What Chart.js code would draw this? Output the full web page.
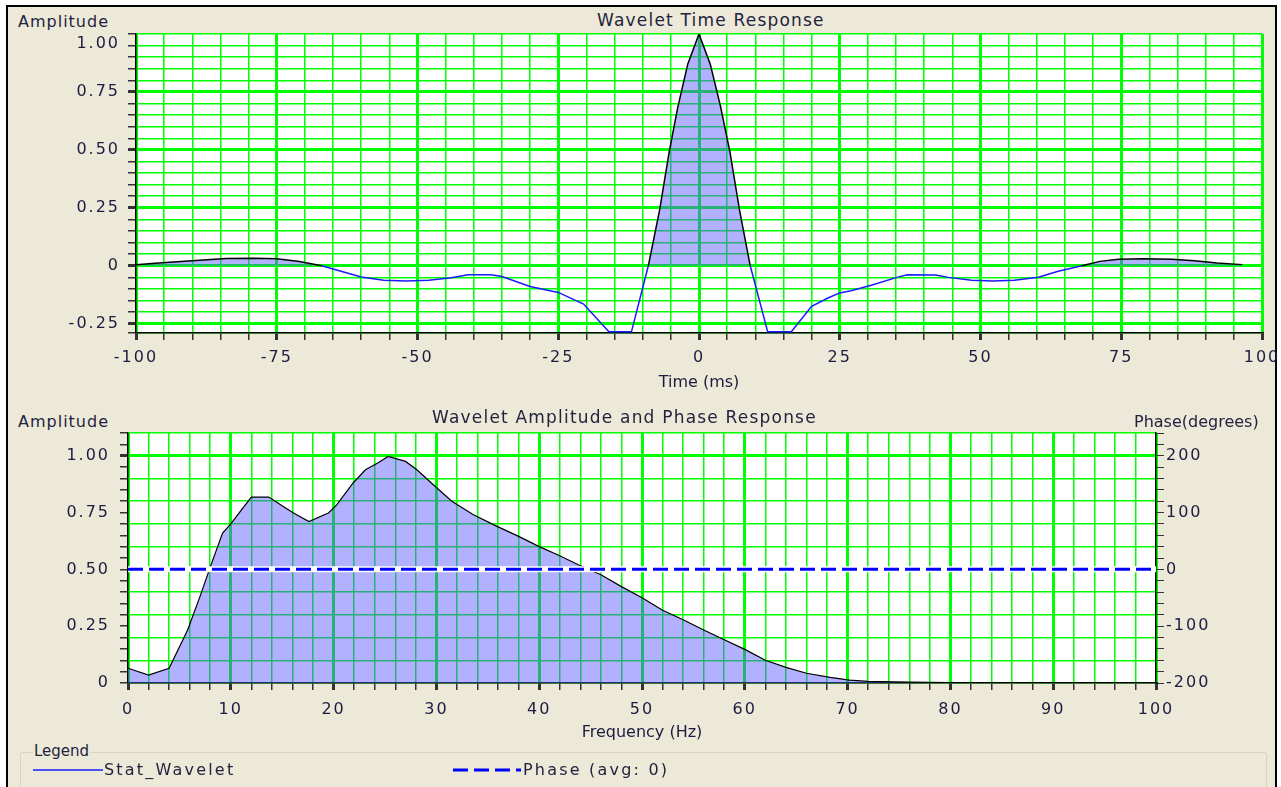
<!DOCTYPE html>
<html>
<head>
<meta charset="utf-8">
<script src="https://cdn.jsdelivr.net/npm/chart.js@4.4.1/dist/chart.umd.min.js"></script>
<style>
  body { margin: 0; background: #fff; width: 1281px; height: 787px; overflow: hidden; font-family: "DejaVu Sans", sans-serif; }
  #frame { position: absolute; left: 6px; top: 5px; width: 1267px; height: 790px; background: #ECE9D8;
           border-left: 2px solid #000; border-top: 2px solid #000; border-right: 2px solid #000; }
  .box { position: absolute; }
  .lbl { position: absolute; color: #23233f; white-space: nowrap; }
  .ttl { font-size: 17px; letter-spacing: 1.2px; }
  .ax { font-size: 16px; letter-spacing: 1px; }
  .lg { font-size: 16px; letter-spacing: 2.2px; }
  #legend { position: absolute; left: 20px; top: 752px; width: 1245px; height: 50px; border: 1px solid #d6d3c2; border-radius: 2px; }
</style>
</head>
<body>
<div id="frame"></div>

<div class="lbl ax" style="left:18px; top:12px;">Amplitude</div>
<div class="lbl ttl" style="left:597px; top:10px;">Wavelet Time Response</div>
<div class="box" style="left:0; top:0; width:1281px; height:400px;"><canvas id="timeChart"></canvas></div>

<div class="lbl ax" style="left:18px; top:412px;">Amplitude</div>
<div class="lbl ttl" style="left:432px; top:407px;">Wavelet Amplitude and Phase Response</div>
<div class="lbl" style="left:1134px; top:412px; font-size:16px;">Phase(degrees)</div>
<div class="box" style="left:0; top:390px; width:1281px; height:360px;"><canvas id="freqChart"></canvas></div>

<div id="legend"></div>
<div class="lbl" style="left:33px; top:742px; font-size:15px; background:#ECE9D8; padding:0 1px;">Legend</div>
<svg style="position:absolute; left:33px; top:764px;" width="70" height="12"><line x1="0" y1="6" x2="70" y2="6" stroke="#1a1aff" stroke-width="1.5"/></svg>
<div class="lbl lg" style="left:104px; top:760px;">Stat_Wavelet</div>
<svg style="position:absolute; left:453px; top:764px;" width="68" height="12"><line x1="0" y1="6" x2="68" y2="6" stroke="#0000ff" stroke-width="3" stroke-dasharray="15,6"/></svg>
<div class="lbl lg" style="left:523px; top:760px;">Phase (avg: 0)</div>

<script>
// time response (ms, amplitude)
const timeMs = [-100, -96, -92, -88, -84, -79, -75, -71, -67, -65, -60, -56, -52, -48, -44, -41, -37, -35, -30, -25, -20.5, -16, -12,
  -9, -7, -5.3, -3.8, -2, 0, 2, 3.8, 5.5, 7.2, 9.1,
  12.2, 16.4, 20, 23, 25, 27, 30.6, 35.3, 37, 42, 44.3, 48.4, 52.2, 56, 60.3, 63.8, 68, 71.2, 74.5, 79, 84, 88, 92, 96.5];
const timeAmp = [0.004, 0.012, 0.019, 0.025, 0.031, 0.032, 0.030, 0.018, 0, -0.014, -0.048, -0.062, -0.066, -0.062, -0.052, -0.039, -0.039, -0.046, -0.089, -0.115, -0.165, -0.285, -0.285,
  0, 0.24, 0.49, 0.68, 0.87, 1.0, 0.87, 0.69, 0.49, 0.24, 0,
  -0.285, -0.285, -0.175, -0.138, -0.117, -0.108, -0.084, -0.049, -0.039, -0.040, -0.050, -0.062, -0.066, -0.062, -0.049, -0.024, 0, 0.019, 0.028, 0.030, 0.028, 0.022, 0.012, 0.005];

// amplitude spectrum (Hz, normalised amplitude)
const freqHz = [0, 2, 4, 5.8, 7, 8, 9.2, 10, 11, 12, 13.7, 15.1, 16.1, 17.6, 19.5, 20.3, 21.9, 23.1, 24.3, 25.3, 27, 28.1, 29.7,
  31.5, 33.6, 35.9, 38, 40, 42, 43.8, 46, 48, 50, 52, 54, 56, 58, 60, 62, 64, 66, 68.3, 70.2, 72, 76, 80, 100];
const freqAmp = [0.065, 0.035, 0.065, 0.233, 0.38, 0.51, 0.66, 0.70, 0.76, 0.818, 0.818, 0.777, 0.748, 0.71, 0.748, 0.784, 0.88, 0.938, 0.968, 0.997, 0.975, 0.938, 0.872,
  0.80, 0.74, 0.689, 0.645, 0.60, 0.56, 0.52, 0.476, 0.424, 0.375, 0.32, 0.278, 0.233, 0.19, 0.148, 0.10, 0.069, 0.043, 0.025, 0.013, 0.007, 0.004, 0.002, 0.002];

// phase (degrees)
const phaseHz = [0, 100];
const phaseDeg = [0, 0];

const GREEN = '#00ff00';
const FILL = 'rgba(90, 90, 255, 0.47)';
const TICK_TEXT = '#1c1c40';

Chart.defaults.font.family = '"DejaVu Sans", sans-serif';
Chart.defaults.font.size = 16;
Chart.defaults.color = TICK_TEXT;
Chart.defaults.animation = false;

// white plot area behind the grid
const plotBg = {
  id: 'plotBg',
  beforeDraw(chart) {
    const { ctx, chartArea: a } = chart;
    ctx.save();
    ctx.fillStyle = '#ffffff';
    ctx.fillRect(a.left, a.top, a.right - a.left, a.bottom - a.top);
    ctx.restore();
  }
};

// the old app draws tick numbers with wide spacing
function spaceLabels(s) {
  if (s._spaced) return;
  s._spaced = true;
  const draw = s.drawLabels.bind(s);
  s.drawLabels = area => { const c = s.ctx; c.save(); c.letterSpacing = '2px'; draw(area); c.restore(); };
}
// top label sits inside the plot instead of on the edge
function dropTopLabel(s) {
  if (s._dropped) return;
  s._dropped = true;
  const get = s.getLabelItems.bind(s);
  s.getLabelItems = area => {
    const items = get(area);
    items.forEach(it => {
      if (it.label === '1.00' && !it._moved) {
        it.options.translation = [it.options.translation[0], it.options.translation[1] + 10];
        it._moved = true;
      }
    });
    return items;
  };
}
const fitX = s => { s.height = 67; s.paddingLeft = 0; s.paddingRight = 0; spaceLabels(s); };

const pts = (xs, ys) => xs.map((x, i) => ({ x: x, y: ys[i] }));
const hund = v => Math.round(v * 100);
const posColor = ctx => (ctx.p0.parsed.y >= 0 && ctx.p1.parsed.y >= 0) ? '#000000' : '#1a1aff';
const ampLabel = v => { const r = hund(v); return r % 25 === 0 ? (r === 0 ? '0' : (r / 100).toFixed(2)) : ''; };

new Chart(document.getElementById('timeChart'), {
  type: 'line',
  data: {
    datasets: [{
      label: 'Stat_Wavelet',
      data: pts(timeMs, timeAmp),
      borderColor: '#1a1aff',
      borderWidth: 1.5,
      pointRadius: 0,
      segment: { borderColor: posColor },
      fill: { target: 'origin', above: FILL, below: 'rgba(0,0,0,0)' }
    }]
  },
  plugins: [plotBg],
  options: {
    responsive: true,
    maintainAspectRatio: false,
    layout: { padding: { top: 34, right: 19, left: 0, bottom: 0 } },
    plugins: { legend: { display: false }, tooltip: { enabled: false } },
    scales: {
      x: {
        type: 'linear', min: -100, max: 100,
        ticks: { stepSize: 5, autoSkip: false, maxRotation: 0, padding: 8,
          callback: v => v % 25 === 0 ? String(v) : '' },
        grid: { color: GREEN, lineWidth: c => (c.tick && c.tick.value % 25 === 0) ? 3 : 1.5,
          tickColor: '#333', tickLength: 7 },
        border: { color: '#000', width: 1.5 },
        title: { display: true, text: 'Time (ms)', font: { size: 16 }, padding: { bottom: 8 } },
        afterFit: fitX
      },
      y: {
        min: -0.29, max: 1.0,
        ticks: { autoSkip: false, padding: 8, callback: ampLabel },
        afterBuildTicks: s => {
          const t = [{ value: -0.29 }];
          for (let r = -25; r <= 100; r += 5) t.push({ value: r / 100 });
          s.ticks = t;
        },
        grid: { color: GREEN, lineWidth: c => { if (!c.tick) return 1.5; const r = hund(c.tick.value); return (r % 25 === 0 && r !== 100) ? 3 : 1.5; },
          tickColor: '#333', tickLength: 8 },
        border: { color: '#000', width: 1.5 },
        afterFit: s => { s.width = 136; spaceLabels(s); dropTopLabel(s); }
      }
    }
  }
});

new Chart(document.getElementById('freqChart'), {
  type: 'line',
  data: {
    datasets: [{
      label: 'Phase (avg: 0)',
      data: pts(phaseHz, phaseDeg),
      yAxisID: 'yP',
      borderColor: '#0000ff',
      borderWidth: 3,
      borderDash: [15, 6],
      pointRadius: 0,
      fill: false
    }, {
      label: 'phase halo',
      data: pts(phaseHz, phaseDeg),
      yAxisID: 'yP',
      borderColor: '#ffffff',
      borderWidth: 6,
      pointRadius: 0,
      fill: false
    }, {
      label: 'Stat_Wavelet',
      data: pts(freqHz, freqAmp),
      yAxisID: 'y',
      borderColor: '#000000',
      borderWidth: 1.2,
      pointRadius: 0,
      fill: { target: 'origin', above: FILL, below: 'rgba(0,0,0,0)' }
    }]
  },
  plugins: [plotBg],
  options: {
    responsive: true,
    maintainAspectRatio: false,
    layout: { padding: { top: 43, right: 0, left: 0, bottom: 0 } },
    plugins: { legend: { display: false }, tooltip: { enabled: false } },
    scales: {
      x: {
        type: 'linear', min: 0, max: 100,
        ticks: { stepSize: 2, autoSkip: false, maxRotation: 0, padding: 10,
          callback: v => v % 10 === 0 ? String(v) : '' },
        grid: { color: GREEN, lineWidth: c => (c.tick && c.tick.value % 10 === 0) ? 3 : 1.5,
          tickColor: '#333', tickLength: 7 },
        border: { color: '#000', width: 1.5 },
        title: { display: true, text: 'Frequency (Hz)', font: { size: 16 }, padding: { bottom: 8 } },
        afterFit: fitX
      },
      y: {
        position: 'left', min: 0, max: 1.1,
        ticks: { stepSize: 0.05, autoSkip: false, padding: 10, callback: ampLabel },
        grid: {
          color: c => (c.tick && hund(c.tick.value) % 10 === 0) ? GREEN : 'rgba(0,0,0,0)',
          lineWidth: c => (c.tick && hund(c.tick.value) === 100) ? 3 : 1.5,
          tickColor: '#333', tickLength: 8 },
        border: { color: '#000', width: 1.5 },
        afterFit: s => { s.width = 128; spaceLabels(s); }
      },
      yP: {
        position: 'right', min: -200, max: 240,
        ticks: { stepSize: 20, autoSkip: false, padding: 2,
          callback: v => v % 100 === 0 ? String(v) : '' },
        grid: { drawOnChartArea: false, tickColor: '#333', tickLength: 8 },
        border: { color: '#000', width: 1.5 },
        afterFit: s => { s.width = 125; spaceLabels(s); }
      }
    }
  }
});
</script>
</body>
</html>
